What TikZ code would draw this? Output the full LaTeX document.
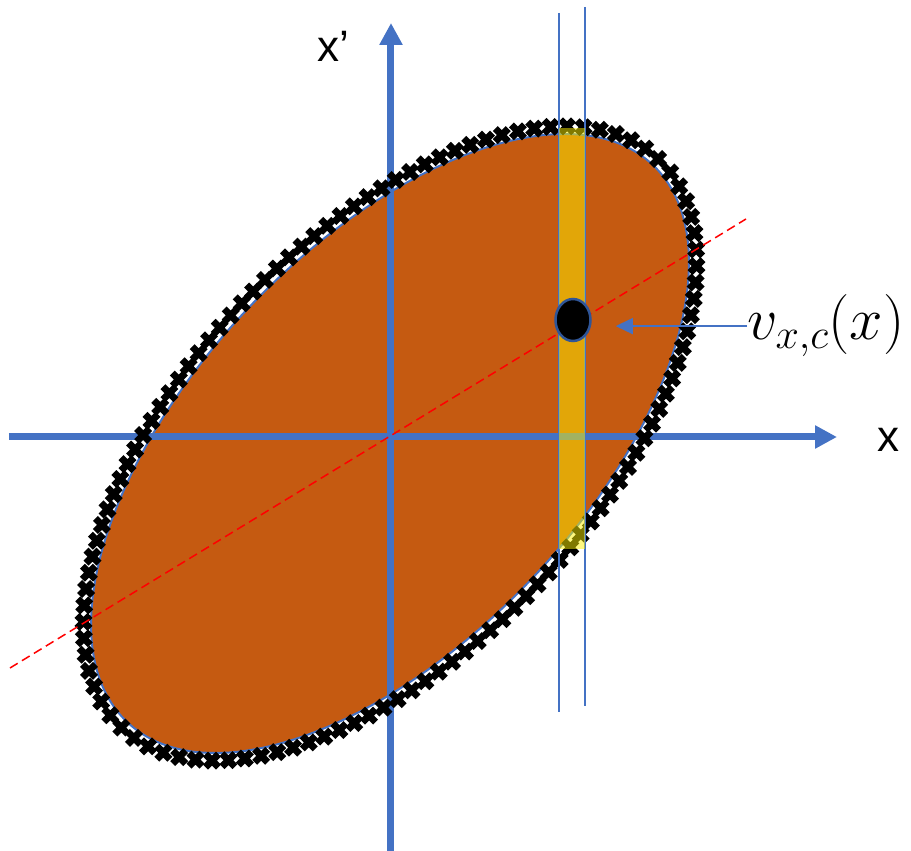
\RequirePackage{fix-cm}
\documentclass[tikz,border=0pt]{standalone}
\usepackage{fontspec}
\newfontfamily\axisfont{Liberation Sans}
\usetikzlibrary{arrows.meta, decorations.markings, shapes.misc, shapes.geometric}
\definecolor{pptblue}{HTML}{4472C4}
\definecolor{pptorange}{HTML}{C55A11}
\definecolor{pptdarkblue}{HTML}{2F5597}

\begin{document}
\begin{tikzpicture}[
        x=1pt, y=1pt,
        % ===== Estilos =====
        axisline/.style={draw=pptblue, line width=7pt,
                         -{Triangle[length=22pt, width=22pt]}},
        blob/.style={fill=pptorange, draw=pptblue, line width=2pt},
        xmark/.style={draw=black, cross out, line width=7pt,
                      minimum size=6pt, inner sep=0pt},
        stripline/.style={draw=pptblue, line width=2pt},
        stripfill/.style={fill=yellow, fill opacity=0.5},
        diag/.style={draw=red, line width=1.5pt, dash pattern=on 9pt off 5pt},
        meanpt/.style={ellipse, fill=black, draw=pptdarkblue, line width=2.5pt,
                       minimum width=35pt, minimum height=42pt, inner sep=0pt},
        pointer/.style={draw=pptblue, line width=1.5pt,
                        -{Triangle[length=17pt, width=16pt]}},
        axislabel/.style={font=\axisfont\fontsize{44}{48}\selectfont,
                          inner sep=0pt, anchor=base west},
        mathlabel/.style={font=\fontsize{60}{66}\selectfont,
                          inner sep=0pt, anchor=base west}
    ]
        \useasboundingbox (-391,-414) rectangle (520,437);

        % ===== Elipse =====
        \coordinate (c) at (-1,-6.5);
        \path[blob, rotate around={46.7:(c)}] (c) ellipse [x radius=383, y radius=196];

        % ===== Ejes =====
        \coordinate (xs) at (-382,0);
        \coordinate (xe) at (446,0);
        \coordinate (ys) at (0,-414);
        \coordinate (ye) at (0,414);
        \draw[axisline] (xs) -- (xe);
        \draw[axisline] (ys) -- (ye);

        % ===== Marcas del borde =====
        \path[rotate around={46.7:(c)},
              decoration={markings,
                  mark=between positions 0 and 0.995 step 16.5pt with {\node[xmark] {};}},
              decorate] (c) ellipse [x radius=391, y radius=204];

        % ===== Franja =====
        \foreach \xs/\yt/\yb in {168/424/-275, 194/430/-269}{
            \draw[stripline] (\xs,\yt) -- (\xs,\yb);
        }
        \draw[diag] (-381,-231) -- (355,218);
        \fill[stripfill] (168,309) rectangle (194,-112);

        % ===== Punto y etiqueta =====
        \node[meanpt] (dot) at (182,117) {};
        \node[mathlabel] (vlab) at (356,97) {$v_{x,c}(x)$};
        \draw[pointer, shorten >=24pt] (vlab.west) -- (vlab.west -| dot.east);

        \node[axislabel] (xplab) at (-74,375) {x’};
        \node[axislabel] (xlab) at (486,-15) {x};
    \end{tikzpicture}
\end{document}
